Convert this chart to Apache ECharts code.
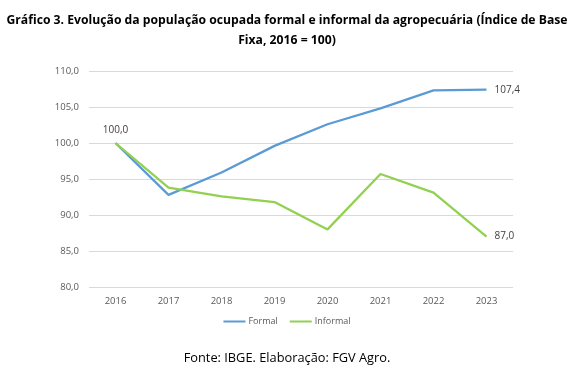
<!DOCTYPE html>
<html><head><meta charset="utf-8">
<script src="https://cdn.jsdelivr.net/npm/echarts@6/dist/echarts.min.js"></script>
<style>html,body{margin:0;padding:0;background:#fff}#c{width:574px;height:381px}</style>
</head><body><div id="c"></div>
<script>
const years = ['2016','2017','2018','2019','2020','2021','2022','2023'];
const formal = [100.0, 92.8, 95.9, 99.6, 102.6, 104.8, 107.3, 107.4];
const informal = [100.0, 93.8, 92.6, 91.8, 88.0, 95.7, 93.1, 87.0];
const seriesNames = ['Formal', 'Informal'];
const titleText = 'Gráfico 3. Evolução da população ocupada formal e informal da agropecuária (Índice de Base\nFixa, 2016 = 100)';
const sourceText = 'Fonte: IBGE. Elaboração: FGV Agro.';

const fmt = v => v.toFixed(1).replace('.', ',');
const labelFor = (arr, idxs, pos) => arr.map((v, i) => idxs.includes(i)
  ? {value: v, label: {show: true, position: pos[i], formatter: p => fmt(p.value), color: '#404040', fontSize: 10, fontFamily: 'Open Sans', distance: 8}}
  : v);

const chart = echarts.init(document.getElementById('c'), null, {renderer: 'canvas'});
chart.setOption({
  animation: false,
  backgroundColor: '#fff',
  title: [{
    text: titleText, left: 'center', top: 6,
    textStyle: {fontFamily: 'Open Sans', fontWeight: 'bold', fontSize: 12.2, lineHeight: 20, color: '#000'}
  }, {
    text: sourceText, left: 'center', top: 347,
    textStyle: {fontFamily: 'Open Sans', fontWeight: 'normal', fontSize: 12.8, color: '#000'}
  }],
  legend: {
    bottom: 50, left: 'center', itemWidth: 22, itemHeight: 2, itemGap: 12,
    icon: 'rect',
    textStyle: {fontFamily: 'Open Sans', fontSize: 9, color: '#595959', padding: [0, 0, 0, -2]},
    data: seriesNames
  },
  grid: {left: 89, right: 61, top: 71, bottom: 94, containLabel: false},
  xAxis: {
    type: 'category', data: years, boundaryGap: true,
    axisLine: {show: false}, axisTick: {show: false},
    axisLabel: {color: '#595959', fontFamily: 'Open Sans', fontSize: 9.5, margin: 9}
  },
  yAxis: {
    type: 'value', min: 80, max: 110, interval: 5,
    axisLine: {show: false}, axisTick: {show: false},
    splitLine: {lineStyle: {color: '#d9d9d9', width: 1}},
    axisLabel: {color: '#595959', fontFamily: 'Open Sans', fontSize: 9.5, margin: 10, formatter: v => fmt(v)}
  },
  series: [{
    name: seriesNames[0], type: 'line', showSymbol: true, symbol: 'circle', symbolSize: 0,
    lineStyle: {color: '#5b9bd5', width: 2.25}, itemStyle: {color: '#5b9bd5'},
    data: labelFor(formal, [7], {7: 'right'}), z: 2
  }, {
    name: seriesNames[1], type: 'line', showSymbol: true, symbol: 'circle', symbolSize: 0,
    lineStyle: {color: '#92d050', width: 2.25}, itemStyle: {color: '#92d050'},
    data: labelFor(informal, [0, 7], {0: 'top', 7: 'right'}), z: 3
  }]
});
</script></body></html>
